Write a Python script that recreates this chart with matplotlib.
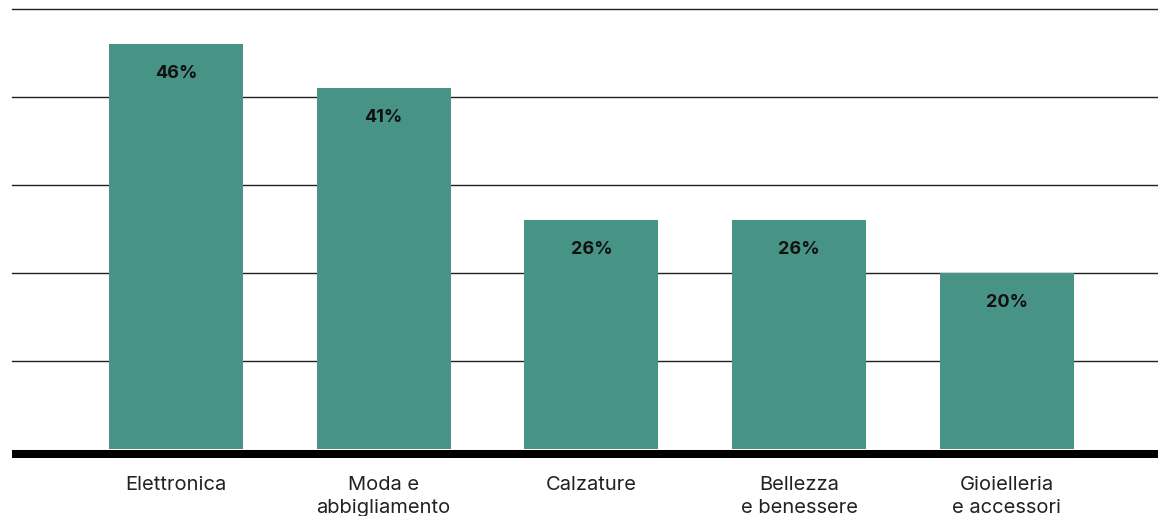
import matplotlib
matplotlib.use('Agg')
import matplotlib.pyplot as plt

categories = ['Elettronica', 'Moda e\nabbigliamento', 'Calzature', 'Bellezza\ne benessere', 'Gioielleria\ne accessori']
values = [46, 41, 26, 26, 20]
labels = ['46%', '41%', '26%', '26%', '20%']

plt.rcParams['font.family'] = ['Inter', 'DejaVu Sans']

fig = plt.figure(figsize=(11.58, 5.16), dpi=100)
# axes placed in pixels: left 12, top 9, bottom 458
ax = fig.add_axes([12 / 1158, 1 - 458 / 516, 1146 / 1158, 449 / 516])

x = list(range(len(categories)))
ax.bar(x, values, width=0.645, color='#479486', zorder=2)

for yy in [10, 20, 30, 40, 50]:
    ax.axhline(yy, color='#222222', lw=1.0, zorder=1, clip_on=False)
ax.axhline(-0.5, color='black', lw=5.8, zorder=3)

for xi, v, lab in zip(x, values, labels):
    ax.text(xi, v - 3.3, lab, ha='center', va='center', fontsize=13, fontweight='bold', color='#111111', zorder=4)

ax.set_xlim(-0.789, 4.727)
ax.set_ylim(-1, 50)
ax.set_xticks(x)
ax.set_xticklabels(categories, fontsize=14.5, color='#222222', linespacing=1.33)
ax.tick_params(axis='x', length=0, pad=13)
ax.set_yticks([])
for s in ax.spines.values():
    s.set_visible(False)

fig.savefig('out.png', dpi=100)
